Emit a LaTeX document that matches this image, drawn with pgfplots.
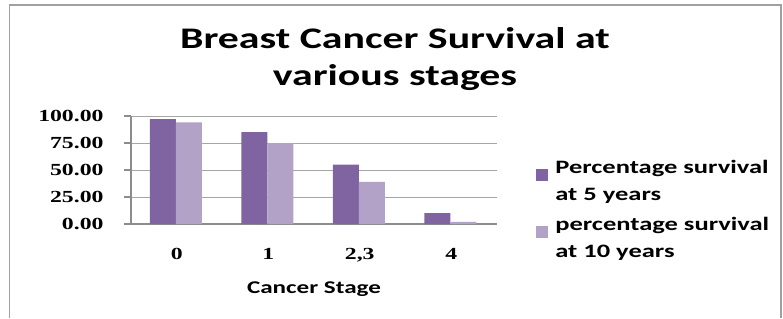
\documentclass[border=0pt]{standalone}
\usepackage{pgfplots}
\pgfplotsset{compat=1.18}
\usepackage{fontspec}
\setmainfont{Carlito}[FakeStretch=1.4]
\newfontfamily\tickfont{Liberation Serif}[FakeStretch=1.4]
\definecolor{fiveyr}{HTML}{8064A2}
\definecolor{tenyr}{HTML}{B3A2C7}
\definecolor{axgray}{HTML}{8C8C8C}
\definecolor{gridgray}{HTML}{A6A6A6}
\definecolor{framegray}{HTML}{A0A0A0}
\begin{document}
\begin{tikzpicture}[x=1bp,y=1bp]
\path[use as bounding box] (0,0) rectangle (783,318);
\draw[framegray, line width=1.5bp] (9.5,0) -- (9.5,313) -- (781,313) -- (781,0);
\node[anchor=base, font=\bfseries\fontsize{30}{37}\selectfont] at (395,270) {Breast Cancer Survival at};
\node[anchor=base, font=\bfseries\fontsize{30}{37}\selectfont] at (395,233) {various stages};
\begin{axis}[
  at={(131bp,94bp)}, anchor=south west,
  scale only axis, width=366bp, height=108bp,
  xmin=-0.5, xmax=3.5, ymin=0, ymax=100,
  ybar=0pt, bar width=26bp,
  axis x line*=bottom, axis y line*=left,
  axis line style={axgray, line width=2bp},
  xtick={0,1,2,3}, xticklabels={0,1,{2,3},4},
  x tick style={draw=none},
  extra x ticks={-0.5,0.5,1.5,2.5,3.5}, extra x tick labels={},
  extra x tick style={tick style={axgray, line width=2bp}, major tick length=5bp, tick align=outside},
  ytick={0,25,50,75,100},
  y tick style={axgray, line width=2bp},
  major tick length=7bp, tick align=outside,
  ymajorgrids, major grid style={gridgray, line width=1bp},
  /pgf/number format/assume math mode=true,
  yticklabel={\pgfmathprintnumber[fixed,fixed zerofill,precision=2]{\tick}},
  ticklabel style={font=\tickfont\bfseries\fontsize{17}{20}\selectfont},
  yticklabel style={xshift=-17bp},
  xticklabel style={yshift=-14bp},
  xlabel={Cancer Stage},
  xlabel style={font=\bfseries\fontsize{18}{22}\selectfont, yshift=-1bp},
  legend style={at={(axis description cs:1.107,0.61)}, anchor=north west,
    draw=none, fill=none, inner sep=0pt,
    font=\bfseries\fontsize{19}{24}\selectfont,
    cells={align=left}, row sep=11bp,
    /tikz/every odd column/.append style={column sep=5bp}},
  legend cell align=left,
]
\addplot[fill=fiveyr, draw=none, bar shift=-14bp, legend image code/.code={\fill[fiveyr] (0bp,0bp) rectangle (12bp,12bp);}]
  coordinates {(0,97) (1,85) (2,55) (3,10)};
\addlegendentry{Percentage survival\\[3bp]at 5 years}
\addplot[fill=tenyr, draw=none, bar shift=12bp, legend image code/.code={\fill[tenyr] (0bp,0bp) rectangle (12bp,12bp);}]
  coordinates {(0,94) (1,75) (2,39) (3,2)};
\addlegendentry{percentage survival\\[3bp]at 10 years}
\end{axis}
\end{tikzpicture}
\end{document}
